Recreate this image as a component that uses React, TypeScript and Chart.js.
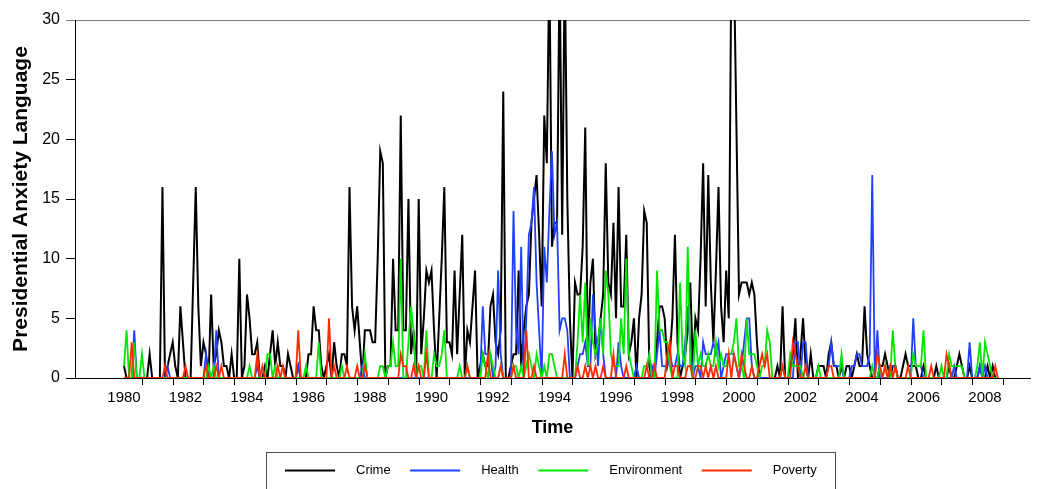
import React, { useEffect, useRef } from "react";
import { Chart, registerables } from "chart.js";

Chart.register(...registerables);

const START_YEAR = 1980;
const seriesLabels = ["Crime", "Health", "Environment", "Poverty"];
const xTickYears = [1980, 1982, 1984, 1986, 1988, 1990, 1992, 1994, 1996, 1998, 2000, 2002, 2004, 2006, 2008];
const tickMarkYears = [1980, 1981, 1982, 1983, 1984, 1985, 1986, 1987, 1988, 1989, 1990, 1991, 1992, 1993, 1994, 1995, 1996, 1997, 1998, 1999, 2000, 2001, 2002, 2003, 2004, 2005, 2006, 2007, 2008];

// monthly values, Jan 1980 .. Jun 2008
const crime = [
  1, 0, 0, 0, 0, 0, 0, 0, 0, 0, 2, 0, // 1980
  0, 0, 0, 16, 0, 1, 2, 3, 1, 0, 6, 3, // 1981
  0, 0, 0, 8, 16, 6, 1, 3, 2, 0, 7, 1, // 1982
  2, 4, 3, 1, 1, 0, 2, 0, 0, 10, 0, 1, // 1983
  7, 5, 2, 2, 3, 0, 0, 1, 0, 2, 4, 1, // 1984
  3, 1, 1, 0, 2, 1, 0, 0, 1, 0, 0, 0, // 1985
  2, 2, 6, 4, 4, 1, 0, 1, 2, 0, 3, 1, // 1986
  0, 2, 2, 1, 16, 6, 4, 6, 3, 0, 4, 4, // 1987
  4, 3, 3, 10, 19, 18, 0, 1, 1, 10, 4, 4, // 1988
  22, 4, 4, 15, 2, 4, 0, 15, 2, 5, 9, 8, // 1989
  9, 4, 0, 5, 10, 16, 3, 3, 2, 9, 2, 7, // 1990
  12, 0, 4, 3, 6, 9, 0, 1, 2, 1, 1, 6, // 1991
  7, 3, 2, 4, 24, 0, 0, 1, 2, 2, 9, 1, // 1992
  4, 6, 7, 13, 15, 17, 12, 6, 22, 18, 35, 11, // 1993
  13, 13, 35, 12, 35, 15, 5, 0, 8, 7, 7, 11, // 1994
  21, 2, 8, 10, 2, 3, 5, 7, 18, 8, 7, 13, // 1995
  5, 16, 6, 6, 12, 2, 3, 5, 0, 5, 7, 14, // 1996
  13, 1, 0, 1, 3, 6, 6, 5, 1, 2, 5, 12, // 1997
  3, 0, 1, 2, 4, 8, 1, 5, 4, 10, 18, 6, // 1998
  17, 8, 3, 9, 16, 6, 3, 9, 5, 35, 35, 21, // 1999
  7, 8, 8, 8, 7, 8, 7, 3, 0, 0, 0, 0, // 2000
  0, 0, 0, 1, 0, 6, 0, 0, 1, 2, 5, 0, // 2001
  2, 5, 1, 0, 2, 0, 0, 1, 1, 1, 0, 2, // 2002
  3, 1, 1, 0, 1, 0, 1, 1, 0, 1, 2, 1, // 2003
  1, 6, 2, 1, 0, 0, 0, 1, 1, 2, 1, 0, // 2004
  1, 1, 0, 0, 1, 2, 1, 1, 1, 1, 0, 0, // 2005
  1, 0, 0, 0, 0, 1, 0, 0, 0, 0, 1, 0, // 2006
  0, 1, 2, 1, 0, 0, 1, 0, 0, 0, 1, 0, // 2007
  0, 1, 0, 1, 0, 0, // 2008
];

const health = [
  0, 0, 0, 0, 4, 0, 0, 0, 0, 0, 0, 0, // 1980
  0, 0, 0, 0, 0, 1, 0, 0, 0, 0, 0, 0, // 1981
  0, 0, 0, 0, 0, 0, 0, 0, 2, 0, 0, 0, // 1982
  4, 0, 0, 0, 0, 0, 0, 0, 0, 0, 0, 0, // 1983
  0, 0, 0, 0, 1, 0, 0, 0, 0, 0, 0, 0, // 1984
  0, 0, 0, 0, 0, 0, 0, 0, 1, 0, 0, 0, // 1985
  0, 0, 0, 0, 0, 0, 0, 0, 0, 0, 0, 0, // 1986
  0, 0, 0, 0, 0, 0, 0, 0, 0, 1, 0, 0, // 1987
  0, 0, 0, 0, 0, 0, 0, 0, 0, 0, 0, 0, // 1988
  0, 0, 0, 0, 0, 0, 0, 0, 0, 0, 0, 0, // 1989
  0, 0, 0, 0, 0, 0, 0, 0, 0, 0, 0, 0, // 1990
  0, 0, 0, 0, 0, 0, 0, 0, 6, 2, 2, 2, // 1991
  0, 1, 9, 2, 0, 0, 0, 0, 14, 4, 2, 11, // 1992
  0, 5, 12, 13, 16, 8, 4, 0, 11, 8, 14, 19, // 1993
  12, 13, 4, 5, 5, 4, 0, 0, 0, 1, 2, 2, // 1994
  3, 1, 1, 7, 4, 1, 5, 2, 0, 0, 0, 0, // 1995
  0, 3, 1, 0, 0, 0, 0, 0, 1, 0, 0, 0, // 1996
  0, 0, 1, 0, 2, 4, 1, 1, 1, 2, 1, 1, // 1997
  2, 1, 1, 3, 6, 3, 0, 1, 1, 0, 3, 2, // 1998
  2, 2, 3, 2, 3, 0, 1, 2, 2, 2, 2, 1, // 1999
  0, 1, 3, 5, 5, 1, 0, 0, 0, 0, 0, 0, // 2000
  0, 0, 0, 0, 0, 0, 0, 0, 0, 0, 3, 3, // 2001
  0, 3, 3, 0, 0, 0, 0, 0, 0, 0, 0, 1, // 2002
  3, 1, 1, 1, 1, 0, 0, 0, 1, 1, 2, 2, // 2003
  1, 1, 1, 2, 17, 0, 4, 0, 0, 0, 0, 1, // 2004
  1, 1, 0, 0, 0, 0, 0, 0, 5, 1, 1, 1, // 2005
  0, 0, 0, 0, 0, 0, 0, 0, 0, 0, 0, 0, // 2006
  1, 0, 0, 0, 0, 0, 3, 0, 0, 0, 1, 0, // 2007
  1, 0, 0, 0, 0, 0, // 2008
];

const environment = [
  1, 4, 0, 0, 3, 0, 0, 2, 0, 0, 0, 0, // 1980
  0, 0, 0, 0, 0, 0, 0, 0, 0, 0, 0, 0, // 1981
  0, 0, 0, 0, 0, 0, 0, 0, 0, 1, 0, 1, // 1982
  0, 0, 0, 0, 0, 0, 0, 0, 0, 0, 0, 0, // 1983
  0, 1, 0, 0, 0, 0, 0, 0, 2, 2, 0, 1, // 1984
  0, 0, 0, 0, 0, 0, 0, 0, 0, 0, 0, 1, // 1985
  0, 0, 0, 0, 3, 0, 0, 0, 0, 0, 0, 0, // 1986
  0, 1, 0, 0, 0, 0, 0, 0, 0, 0, 2, 0, // 1987
  0, 0, 0, 0, 1, 1, 0, 1, 1, 3, 1, 1, // 1988
  10, 0, 0, 3, 6, 4, 0, 1, 1, 0, 4, 0, // 1989
  0, 2, 1, 1, 2, 4, 0, 0, 0, 0, 0, 1, // 1990
  0, 0, 1, 0, 0, 0, 0, 0, 2, 1, 0, 2, // 1991
  1, 0, 0, 1, 0, 0, 0, 0, 1, 1, 0, 1, // 1992
  0, 1, 2, 1, 0, 2, 1, 0, 1, 0, 2, 2, // 1993
  1, 0, 0, 0, 0, 0, 0, 0, 0, 3, 7, 3, // 1994
  8, 1, 5, 3, 2, 3, 5, 2, 9, 7, 2, 1, // 1995
  1, 1, 5, 2, 10, 2, 1, 0, 0, 0, 0, 1, // 1996
  1, 2, 0, 0, 9, 4, 4, 3, 3, 1, 0, 0, // 1997
  0, 8, 2, 1, 11, 1, 0, 4, 1, 2, 1, 1, // 1998
  2, 1, 1, 3, 1, 2, 1, 1, 2, 2, 3, 5, // 1999
  1, 1, 0, 5, 2, 2, 2, 1, 0, 1, 1, 4, // 2000
  3, 0, 0, 0, 0, 1, 0, 0, 2, 1, 1, 1, // 2001
  1, 0, 0, 0, 0, 0, 0, 1, 0, 0, 0, 0, // 2002
  0, 0, 0, 0, 2, 0, 0, 0, 0, 0, 0, 0, // 2003
  0, 0, 0, 0, 1, 0, 0, 1, 0, 1, 0, 0, // 2004
  4, 1, 0, 0, 0, 0, 0, 0, 2, 1, 1, 1, // 2005
  4, 0, 0, 0, 0, 0, 0, 1, 0, 0, 2, 1, // 2006
  1, 1, 1, 1, 0, 0, 0, 0, 0, 1, 3, 0, // 2007
  3, 2, 1, 0, 0, 0, // 2008
];

const poverty = [
  0, 0, 0, 3, 0, 0, 0, 0, 0, 0, 0, 0, // 1980
  0, 0, 0, 0, 1, 0, 0, 0, 0, 0, 0, 0, // 1981
  1, 0, 0, 0, 0, 0, 0, 0, 1, 0, 0, 0, // 1982
  1, 0, 1, 0, 0, 0, 0, 0, 0, 0, 0, 0, // 1983
  0, 0, 0, 0, 2, 0, 1, 0, 0, 0, 0, 0, // 1984
  1, 0, 1, 0, 0, 0, 0, 0, 4, 0, 0, 0, // 1985
  0, 0, 0, 0, 0, 0, 0, 0, 5, 0, 1, 0, // 1986
  0, 0, 0, 1, 0, 0, 0, 1, 0, 0, 1, 0, // 1987
  0, 0, 0, 0, 0, 0, 0, 0, 0, 0, 0, 0, // 1988
  2, 1, 1, 0, 0, 1, 0, 1, 0, 0, 2, 0, // 1989
  0, 0, 0, 0, 0, 0, 0, 0, 0, 0, 0, 0, // 1990
  0, 0, 1, 0, 0, 0, 0, 0, 0, 0, 2, 0, // 1991
  0, 0, 0, 1, 0, 0, 0, 0, 1, 0, 0, 0, // 1992
  0, 4, 0, 0, 1, 0, 0, 0, 0, 0, 0, 0, // 1993
  0, 0, 0, 0, 2, 0, 0, 0, 0, 1, 0, 0, // 1994
  1, 0, 1, 0, 1, 0, 0, 1, 0, 0, 0, 2, // 1995
  0, 0, 0, 0, 1, 0, 0, 0, 0, 0, 0, 0, // 1996
  1, 0, 0, 1, 0, 0, 0, 0, 2, 3, 0, 1, // 1997
  1, 0, 0, 0, 1, 1, 0, 0, 1, 1, 0, 1, // 1998
  0, 1, 0, 1, 0, 0, 0, 0, 2, 0, 2, 1, // 1999
  0, 2, 1, 0, 0, 1, 0, 0, 1, 2, 1, 2, // 2000
  0, 0, 0, 0, 0, 1, 0, 0, 0, 3, 2, 1, // 2001
  0, 0, 1, 0, 0, 0, 0, 0, 0, 0, 0, 1, // 2002
  1, 0, 0, 0, 0, 0, 0, 0, 0, 0, 0, 0, // 2003
  0, 0, 0, 0, 0, 0, 2, 1, 0, 1, 0, 1, // 2004
  0, 1, 0, 0, 0, 0, 1, 0, 0, 0, 0, 0, // 2005
  0, 0, 0, 1, 0, 0, 0, 0, 0, 2, 1, 0, // 2006
  0, 0, 0, 0, 0, 0, 0, 0, 0, 0, 0, 0, // 2007
  0, 0, 0, 0, 1, 0, // 2008
];

const seriesValues = [crime, health, environment, poverty];
const seriesColors = ["#000000", "#2040ff", "#00e600", "#ff2a00"];
const seriesWidths = [2, 1.8, 1.8, 1.8];
const seriesOrder = [4, 3, 2, 1];

const FONT = '"Liberation Sans", Arial, Helvetica, sans-serif';

const extrasPlugin = {
  id: "extras",
  afterDraw(chart: any) {
    const ctx = chart.ctx;
    const xs = chart.scales.x;
    const area = chart.chartArea;
    ctx.save();
    ctx.strokeStyle = "#000";
    ctx.lineWidth = 1;
    tickMarkYears.forEach((yr) => {
      const px = Math.round(xs.getPixelForValue(yr + 7 / 12)) + 0.5;
      if (px > area.right) return;
      ctx.beginPath();
      ctx.moveTo(px, area.bottom);
      ctx.lineTo(px, area.bottom + 7);
      ctx.stroke();
    });
    // legend box
    ctx.strokeStyle = "#505050";
    ctx.lineWidth = 1;
    ctx.strokeRect(266.5, 452.5, 569, 60);
    ctx.font = "13px " + FONT;
    ctx.textBaseline = "middle";
    ctx.textAlign = "left";
    let lx = 285;
    const ly = 470;
    chart.data.datasets.forEach((ds: any) => {
      ctx.strokeStyle = ds.borderColor;
      ctx.lineWidth = 2;
      ctx.beginPath();
      ctx.moveTo(lx, ly + 0.5);
      ctx.lineTo(lx + 50, ly + 0.5);
      ctx.stroke();
      ctx.fillStyle = "#000";
      ctx.fillText(ds.label, lx + 71, ly);
      lx += 71 + ctx.measureText(ds.label).width + 19.5;
    });
    ctx.restore();
  },
};

export default function App() {
  const canvasRef = useRef<HTMLCanvasElement | null>(null);

  useEffect(() => {
    if (!canvasRef.current) return;
    Chart.defaults.font.family = FONT;
    const datasets = seriesLabels.map((label, s) => ({
      label,
      data: seriesValues[s].map((v, i) => ({ x: START_YEAR + i / 12, y: v })),
      borderColor: seriesColors[s],
      backgroundColor: seriesColors[s],
      borderWidth: seriesWidths[s],
      pointRadius: 0,
      tension: 0,
      fill: false,
      order: seriesOrder[s],
    }));

    const chart = new Chart(canvasRef.current, {
      type: "line",
      data: { datasets },
      plugins: [extrasPlugin],
      options: {
        animation: false,
        responsive: true,
        maintainAspectRatio: false,
        parsing: false as any,
        layout: { padding: { top: 20, right: 12, left: 0, bottom: 0 } },
        plugins: { legend: { display: false }, tooltip: { enabled: false } },
        scales: {
          x: {
            type: "linear",
            min: 1978.4065,
            max: 2009.4634,
            afterBuildTicks: (s: any) => {
              s.ticks = xTickYears.map((v) => ({ value: v }));
            },
            afterFit: (s: any) => {
              s.height = 111;
            },
            ticks: {
              callback: (v: any) => String(v),
              font: { size: 15, family: FONT },
              color: "#000",
              padding: 11,
              maxRotation: 0,
              autoSkip: false,
            },
            grid: { display: true, drawOnChartArea: false, drawTicks: false },
            border: { display: true, color: "#000", width: 1 },
            title: {
              display: true,
              text: "Time",
              color: "#000",
              font: { size: 18, weight: "bold", family: FONT },
              padding: { top: 0, bottom: 50 },
            },
          },
          y: {
            min: 0,
            max: 30,
            afterFit: (s: any) => {
              s.width = 75;
            },
            ticks: { stepSize: 5, font: { size: 16, family: FONT }, color: "#000", padding: 6 },
            grid: {
              drawOnChartArea: true,
              drawTicks: true,
              tickLength: 9,
              lineWidth: 1,
              color: (c: any) => (c.tick && c.tick.value === 30 ? "#808080" : "rgba(0,0,0,0)"),
              tickColor: (c: any) => (c.tick && c.tick.value === 30 ? "#808080" : "#000"),
            },
            border: { display: true, color: "#000", width: 1 },
            title: {
              display: true,
              text: "Presidential Anxiety Language",
              color: "#000",
              font: { size: 21, weight: "bold", family: FONT },
              padding: { top: 9, bottom: 0 },
            },
          },
        },
      } as any,
    });
    return () => chart.destroy();
  }, []);

  return (
    <div style={{ position: "absolute", left: 0, top: 0, width: 1042, height: 489 }}>
      <canvas ref={canvasRef} />
    </div>
  );
}
